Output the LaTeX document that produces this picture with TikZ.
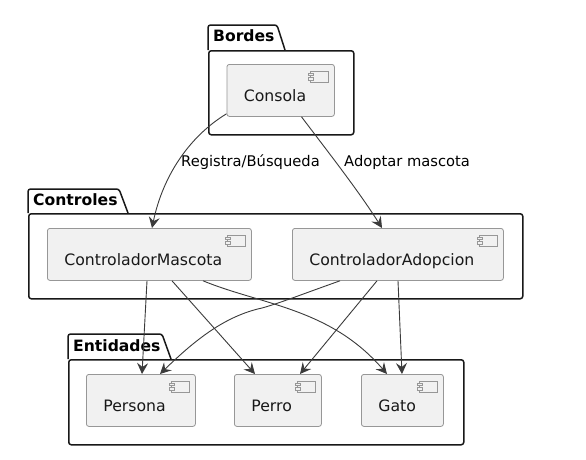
\documentclass[tikz,border=0pt]{standalone}
\usepackage{fontspec}
\setmainfont{DejaVu Sans}
\usetikzlibrary{arrows.meta,calc}
\definecolor{ink}{HTML}{181818}
\definecolor{boxfill}{HTML}{F1F1F1}
\tikzset{
  pkgbody/.style={draw=ink,line width=1.5pt,rounded corners=2.5pt,anchor=north west,inner sep=0pt},
  pkgtab/.style={draw=ink,line width=1.5pt,rounded corners=2.5pt},
  pkgtitle/.style={anchor=base west,inner sep=0pt,font=\fontsize{15.6}{18}\selectfont\bfseries,text=black},
  compbox/.style={draw=ink!45,line width=0.8pt,fill=boxfill,rounded corners=2.5pt,anchor=north west,
    inner xsep=17pt,inner ysep=0pt,text height=37pt,text depth=15pt,align=left,
    font=\fontsize{15.7}{18}\selectfont,text=ink},
  iconpart/.style={draw=ink!45,line width=0.7pt,fill=boxfill},
  flow/.style={draw=ink!85,line width=0.9pt,-{Stealth[length=11pt,width=11pt,inset=4pt]}},
  flowlabel/.style={anchor=base west,inner sep=0pt,font=\fontsize{14.7}{17}\selectfont,text=black},
}
\newcommand{\compicon}[1]{%
  \draw[iconpart] ([xshift=-24pt,yshift=-7pt]#1.north east) rectangle ([xshift=-6pt,yshift=-18pt]#1.north east);
  \draw[iconpart] ([xshift=-26pt,yshift=-9pt]#1.north east) rectangle ([xshift=-21pt,yshift=-11.5pt]#1.north east);
  \draw[iconpart] ([xshift=-26pt,yshift=-13.5pt]#1.north east) rectangle ([xshift=-21pt,yshift=-16pt]#1.north east);
}
\begin{document}
\begin{tikzpicture}[x=1pt,y=-1pt]
\useasboundingbox (0,0) rectangle (586,459);
\fill[white] (0,0) rectangle (586,459);
% packages
\draw[pkgtab] (208,50) -- (208,25) -- (277,25) -- (285,50);
\node[pkgbody,minimum width=145pt,minimum height=84pt] (bordes) at (208,50) {};
\node[pkgtitle] (bordesT) at (213,41) {Bordes};
\draw[pkgtab] (28,213) -- (28,189) -- (119,189) -- (128,213);
\node[pkgbody,minimum width=494pt,minimum height=85pt] (controles) at (28,213) {};
\node[pkgtitle] (controlesT) at (33,205) {Controles};
\draw[pkgtab] (68,359) -- (68,334) -- (162,334) -- (171,359);
\node[pkgbody,minimum width=395pt,minimum height=85pt] (entidades) at (68,359) {};
\node[pkgtitle] (entidadesT) at (73,351) {Entidades};
% components
\node[compbox,text width=73.5pt] (consola) at (226.5,64) {Consola};
\node[compbox,text width=170pt] (cm) at (47,228) {ControladorMascota};
\node[compbox,text width=177pt] (ca) at (292,228) {ControladorAdopcion};
\node[compbox,text width=75pt] (persona) at (86,374) {Persona};
\node[compbox,text width=53pt] (perro) at (234,374) {Perro};
\node[compbox,text width=48pt] (gato) at (361,374) {Gato};
\compicon{consola}\compicon{cm}\compicon{ca}\compicon{persona}\compicon{perro}\compicon{gato}
% connectors
\draw[flow] ([yshift=3pt]consola.south west) .. controls (190,136) and (163,175) .. ([xshift=105pt]cm.north west);
\draw[flow] ([xshift=75pt]consola.south west) .. controls (325,148) and (358,190) .. ([xshift=90pt]ca.north west);
\draw[flow] ([xshift=100pt]cm.south west) -- ([xshift=56pt]persona.north west);
\draw[flow] ([xshift=125pt]cm.south west) -- ([xshift=21pt]perro.north west);
\draw[flow] ([xshift=156pt]cm.south west) .. controls (262,305) and (330,308) .. ([xshift=26pt]gato.north west);
\draw[flow] ([xshift=48pt]ca.south west) .. controls (300,295) and (280,303) .. (262,308) .. controls (225,316) and (195,340) .. ([xshift=74pt]persona.north west);
\draw[flow] ([xshift=85pt]ca.south west) -- ([xshift=66pt]perro.north west);
\draw[flow] ([xshift=106pt]ca.south west) -- ([xshift=41pt]gato.north west);
% labels
\node[flowlabel] (l1) at (181,166) {Registra/Búsqueda};
\node[flowlabel] (l2) at (344,166) {Adoptar mascota};
\end{tikzpicture}
\end{document}
